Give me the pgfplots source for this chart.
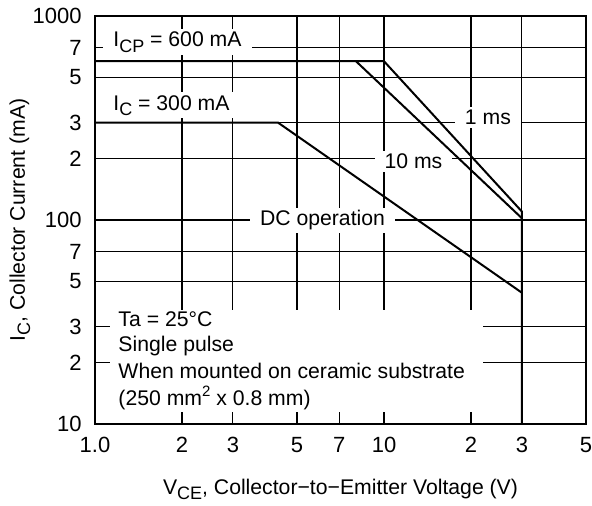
\documentclass[border=0pt]{standalone}
\usepackage{fontspec}
\setmainfont{Liberation Sans}
\usepackage{pgfplots}
\pgfplotsset{compat=1.18}

\newcommand{\sub}[1]{\raisebox{-2.6pt}{\fontsize{9}{10}\selectfont #1}}
\newcommand{\low}[1]{\raisebox{-2.5pt}{#1}}

\begin{document}
\begin{tikzpicture}[
    lbl/.style={fill=white, inner xsep=5pt, inner ysep=1.5pt, anchor=base west, font=\fontsize{10.6}{12}\selectfont},
    txt/.style={inner sep=0pt, anchor=base west, font=\fontsize{10.6}{12}\selectfont},
]
\useasboundingbox (-47.5pt,-41pt) rectangle (248.5pt,212pt);
\begin{axis}[
    scale only axis,
    width=245.5pt, height=204pt,
    xmode=log, ymode=log,
    xmin=1, xmax=50, ymin=10, ymax=1000,
    axis line style={line width=1pt},
    grid=major,
    major grid style={black, line width=0.55pt},
    major tick length=0pt,
    minor tick num=0,
    xtick={1,2,3,5,7,10,20,30,50},
    xticklabels={\low{1.0},2,3,5,7,\low{10},2,3,5},
    ytick={10,20,30,50,70,100,200,300,500,700,1000},
    yticklabels={10,2,3,5,7,100,2,3,5,7,1000},
    /pgf/number format/assume math mode=true,
    tick label style={font=\fontsize{11}{12}\selectfont, inner sep=0pt},
    xticklabel style={anchor=north, yshift=-6.3pt},
    yticklabel style={anchor=east, xshift=-6.5pt},
    xlabel={V\sub{CE}, Collector−to−Emitter Voltage (V)},
    ylabel={I\sub{C}, Collector Current (mA)},
    label style={font=\fontsize{10.6}{12}\selectfont},
    xlabel style={at={(axis description cs:0.5,-0.1716)}, anchor=base},
    ylabel style={at={(axis description cs:-0.1426,0.5)}, anchor=base},
]
% white patch behind the conditions text
\fill[white] (axis cs:1.127,11.46) rectangle (axis cs:21.97,36.2);

\node[lbl] at (axis cs:1.066,705) {I\sub{CP} = 600 mA};
\node[lbl] at (axis cs:1.066,346) {I\sub{C} = 300 mA};
\node[lbl] at (axis cs:3.43,93.5) {DC operation};
\node[lbl] at (axis cs:17.55,294.4) {1 ms};
\node[lbl] at (axis cs:9.25,179.2) {10 ms};

\node[txt] at (axis cs:1.202,30.2) {Ta = 25°C};
\node[txt] at (axis cs:1.202,22.6) {Single pulse};
\node[txt] at (axis cs:1.202,16.76) {When mounted on ceramic substrate};
\node[txt] at (axis cs:1.202,12.39) {(250 mm\raisebox{4.2pt}{\fontsize{7.5}{8}\selectfont 2} x 0.8 mm)};

% 1 ms boundary (with the 30 V limit)
\addplot[black, line width=1pt, no marks, line join=miter] coordinates {
    (1,600) (10,600) (30,110) (30,10)
};
% 10 ms
\addplot[black, line width=1pt, no marks, line join=miter] coordinates {
    (8,600) (30,102)
};
% DC operation
\addplot[black, line width=1pt, no marks, line join=miter] coordinates {
    (1,300) (4.3,300) (30,44)
};
\end{axis}
\end{tikzpicture}
\end{document}
